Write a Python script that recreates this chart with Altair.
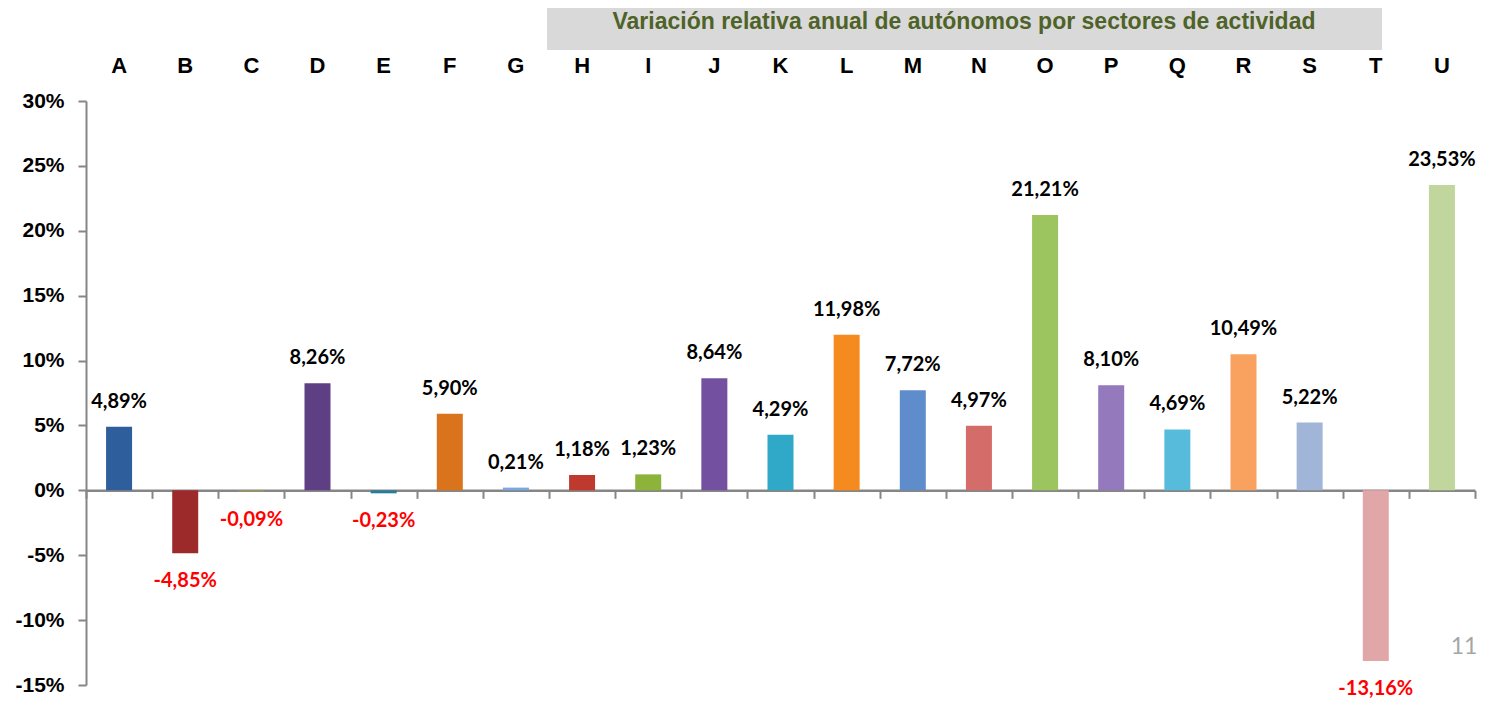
import altair as alt
import pandas as pd

sectors = list("ABCDEFGHIJKLMNOPQRSTU")
values = [4.89, -4.85, -0.09, 8.26, -0.23, 5.90, 0.21, 1.18, 1.23, 8.64, 4.29,
          11.98, 7.72, 4.97, 21.21, 8.10, 4.69, 10.49, 5.22, -13.16, 23.53]
labels = ["4,89%", "-4,85%", "-0,09%", "8,26%", "-0,23%", "5,90%", "0,21%", "1,18%",
          "1,23%", "8,64%", "4,29%", "11,98%", "7,72%", "4,97%", "21,21%", "8,10%",
          "4,69%", "10,49%", "5,22%", "-13,16%", "23,53%"]
colors = ["#2f5e9c", "#9c2a2a", "#9a9a5e", "#5f3f83", "#2a7c9a", "#d9731c", "#7aa7e0",
          "#c0392f", "#8db33a", "#7451a0", "#30a8c8", "#f58a1f", "#5f8dcc", "#d46d6a",
          "#9cc45f", "#9479bd", "#57bcdc", "#f9a25f", "#a0b5d8", "#e1a6a8", "#c1d69c"]
y_ticks = [-15, -10, -5, 0, 5, 10, 15, 20, 25, 30]
title_text = "Variación relativa anual de autónomos por sectores de actividad"
page_number = "11"

df = pd.DataFrame({"sector": sectors, "value": values, "label": labels})

W, H = 1389, 584
TOP = 93
Y_MIN, Y_MAX = -15, 30
zero_offset = -(H * (0 - Y_MIN) / (Y_MAX - Y_MIN))

narrow = "Liberation Sans Narrow, Arial Narrow, Liberation Sans, Arial"
x_scale = alt.Scale(domain=sectors, paddingInner=0, paddingOuter=0)
y_scale = alt.Scale(domain=[Y_MIN, Y_MAX], nice=False, zero=False)

bars = alt.Chart(df).mark_bar(size=26).encode(
    x=alt.X("sector:N", scale=x_scale, sort=sectors,
            axis=alt.Axis(orient="top", title=None, domain=False, ticks=False,
                          labelAngle=0, labelFont=narrow, labelFontSize=22,
                          labelFontWeight="bold", labelColor="#000000",
                          labelPadding=24)),
    y=alt.Y("value:Q", scale=y_scale,
            axis=alt.Axis(values=y_ticks, title=None, grid=False,
                          labelExpr="datum.value + '%'", labelFont=narrow,
                          labelFontSize=21, labelFontWeight="bold",
                          labelColor="#000000", labelPadding=14,
                          domainColor="#868686", domainWidth=2,
                          tickColor="#868686", tickWidth=2, tickSize=8)),
    color=alt.Color("sector:N", scale=alt.Scale(domain=sectors, range=colors),
                    legend=None),
)

zero_axis = alt.Chart(df).mark_tick(opacity=0).encode(
    x=alt.X("sector:N", scale=x_scale, sort=sectors,
            axis=alt.Axis(orient="bottom", title=None, labels=False,
                          offset=zero_offset, tickBand="extent",
                          domainColor="#868686", domainWidth=2.5,
                          tickColor="#868686", tickWidth=2, tickSize=8)),
    y=alt.Y("value:Q", scale=y_scale),
)

pos_labels = alt.Chart(df).transform_filter("datum.value >= 0").mark_text(
    font="Lato", fontSize=20, fontWeight="bold", color="#000000",
    baseline="middle", dy=-25
).encode(x=alt.X("sector:N", scale=x_scale, sort=sectors, axis=None),
         y=alt.Y("value:Q", scale=y_scale), text="label:N")

neg_labels = alt.Chart(df).transform_filter("datum.value < 0").mark_text(
    font="Lato", fontSize=20, fontWeight="bold", color="#ff0000",
    baseline="middle", dy=28
).encode(x=alt.X("sector:N", scale=x_scale, sort=sectors, axis=None),
         y=alt.Y("value:Q", scale=y_scale), text="label:N")

title_box = alt.Chart(pd.DataFrame({"t": [title_text]})).mark_rect(
    color="#d9d9d9"
).encode(x=alt.value(461), x2=alt.value(1296), y=alt.value(-TOP), y2=alt.value(-51))

title = alt.Chart(pd.DataFrame({"t": [title_text]})).mark_text(
    font=narrow, fontSize=23, fontWeight="bold", color="#4f6228",
    align="center", baseline="middle"
).encode(x=alt.value(878), y=alt.value(-79), text="t:N")

page = alt.Chart(pd.DataFrame({"t": [page_number]})).mark_text(
    font="Lato", fontSize=23, color="#a6a6a6", align="center", baseline="middle"
).encode(x=alt.value(1378), y=alt.value(546), text="t:N")

chart = alt.layer(bars, zero_axis, pos_labels, neg_labels, title_box, title, page).resolve_axis(
    x="independent"
).properties(
    width=W, height=H,
    background="#ffffff",
    autosize=alt.AutoSizeParams(type="none"),
    padding={"left": 78, "top": TOP, "right": 4, "bottom": 692 - TOP - H},
).configure_view(stroke=None)

chart.save("out.html", embed_options={"renderer": "svg", "actions": False})
